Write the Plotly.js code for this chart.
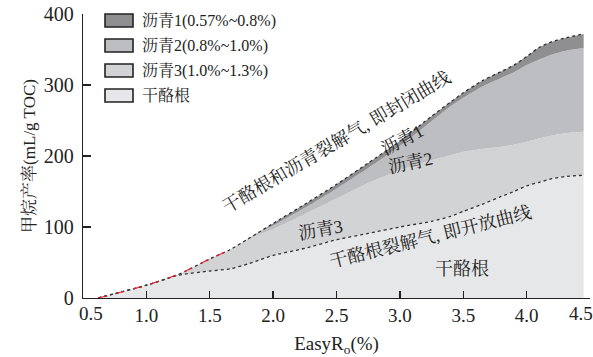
<!DOCTYPE html>
<html><head><meta charset="utf-8">
<script src="https://cdn.plot.ly/plotly-3.0.1.min.js"></script>
<style>html,body{margin:0;padding:0;background:#fff}#chart{width:593px;height:357px}</style>
</head><body><div id="chart"></div>
<script>
// EasyRo (%)
const ro = [0.62, 0.75, 1.0, 1.25, 1.5, 1.66, 1.8, 1.9, 2.0, 2.25, 2.5, 2.75, 3.0, 3.25, 3.4, 3.5, 3.65, 3.8, 3.9, 4.0, 4.1, 4.2, 4.3, 4.45];
// 干酪根裂解气 (open curve)
const kerogen = [0, 6, 18, 32, 38, 41, 48, 54, 60, 70, 82, 91, 100, 108, 115, 122, 132, 143, 150, 158, 163, 168, 171, 173];
// top of 沥青3 layer
const bitumen3Top = [0, 6, 18, 33, 55, 68, 82, 90, 97, 118, 140, 162, 180, 194, 201, 206, 210, 213, 216, 220, 225, 229, 232, 234];
// top of 沥青2 layer
const bitumen2Top = [0, 6, 18, 33, 55, 68, 83, 93, 102, 127, 154, 183, 214, 249, 270, 282, 298, 310, 318, 328, 336, 343, 348, 352];
// total = 干酪根和沥青裂解气 (closed curve) = top of 沥青1 layer
const total = [0, 6, 18, 33, 55, 68, 83, 94, 105, 132, 160, 190, 221, 256, 276, 289, 306, 319, 328, 340, 353, 361, 366, 372];
// early segment marked red
const redUntil = 1.66;

const legendNames = ['沥青1(0.57%~0.8%)', '沥青2(0.8%~1.0%)', '沥青3(1.0%~1.3%)', '干酪根'];
const legendColors = ['#8f8f92', '#bdbec1', '#d2d3d5', '#e6e7e8'];
const xLabelTicks = [1.0, 1.5, 2.0, 2.5, 3.0, 3.5, 4.0];
const xEndTicks = [0.5, 4.5];
const yTicks = [0, 100, 200, 300, 400];

const latin = 'Liberation Serif, Times New Roman, Noto Serif CJK SC, Noto Sans CJK SC, serif';

const redX = ro.filter(v => v <= redUntil);
const redY = total.slice(0, redX.length);

const sp = {shape: 'spline', smoothing: 0.6};
const traces = [
  {x: ro, y: kerogen, mode: 'lines', fill: 'tozeroy', fillcolor: legendColors[3],
   line: Object.assign({color: '#333', width: 1.3, dash: 'dot'}, sp), showlegend: false, hoverinfo: 'skip'},
  {x: ro, y: bitumen3Top, mode: 'lines', fill: 'tonexty', fillcolor: legendColors[2],
   line: Object.assign({width: 0}, sp), showlegend: false, hoverinfo: 'skip'},
  {x: ro, y: bitumen2Top, mode: 'lines', fill: 'tonexty', fillcolor: legendColors[1],
   line: Object.assign({width: 0}, sp), showlegend: false, hoverinfo: 'skip'},
  {x: ro, y: total, mode: 'lines', fill: 'tonexty', fillcolor: legendColors[0],
   line: Object.assign({color: '#333', width: 1.3, dash: 'dot'}, sp), showlegend: false, hoverinfo: 'skip'},
  {x: redX, y: redY, mode: 'lines',
   line: Object.assign({color: '#e8202a', width: 1.1, dash: 'dash'}, sp), showlegend: false, hoverinfo: 'skip'}
];

// plot area in pixels
const L = 83, R = 590, T = 14, B = 298;
const px = v => (v - L) / (R - L);
const py = v => (B - v) / (B - T);

const shapes = [];
const annotations = [];
legendNames.forEach((n, i) => {
  const top = 14 + i * 25;
  shapes.push({type: 'rect', xref: 'paper', yref: 'paper',
    x0: px(105), x1: px(133), y0: py(top + 13), y1: py(top),
    fillcolor: legendColors[i], line: {color: '#222', width: 1.6}});
  annotations.push({xref: 'paper', yref: 'paper', x: px(140), y: py(top + 6.5),
    xanchor: 'left', yanchor: 'middle', text: n, showarrow: false,
    font: {family: latin, size: 16, color: '#222'}});
});

// end tick labels, nudged inward as in the original figure
annotations.push({xref: 'paper', yref: 'paper', x: px(90.5), y: py(313), text: xEndTicks[0].toFixed(1),
  showarrow: false, xanchor: 'center', yanchor: 'middle', font: {family: latin, size: 19, color: '#222'}});
annotations.push({xref: 'paper', yref: 'paper', x: px(581), y: py(313), text: xEndTicks[1].toFixed(1),
  showarrow: false, xanchor: 'center', yanchor: 'middle', font: {family: latin, size: 19, color: '#222'}});

const lab = (text, x, y, angle) => ({x: x, y: y, xref: 'x', yref: 'y', text: text, showarrow: false,
  textangle: angle, font: {family: latin, size: 18, color: '#222'}, xanchor: 'center', yanchor: 'middle'});
annotations.push(lab('干酪根和沥青裂解气, 即封闭曲线', 2.50, 220, -30.5));
annotations.push(lab('沥青1', 3.02, 222, -28));
annotations.push(lab('沥青2', 3.08, 190, -12));
annotations.push(lab('沥青3', 2.37, 96, -10));
annotations.push(lab('干酪根裂解气, 即开放曲线', 3.24, 86, -14));
annotations.push(lab('干酪根', 3.49, 42, 0));

const layout = {
  width: 593, height: 357,
  margin: {l: L, r: 593 - R, t: T, b: 357 - B},
  paper_bgcolor: '#fff', plot_bgcolor: '#fff',
  showlegend: false,
  xaxis: {range: [0.5, 4.5], tickvals: xLabelTicks, ticktext: xLabelTicks.map(v => v.toFixed(1)),
    ticks: 'inside', ticklen: 7, tickwidth: 1.3, tickcolor: '#222',
    minor: {tickmode: 'array', tickvals: xEndTicks, ticks: 'inside', ticklen: 7, tickwidth: 1.3, tickcolor: '#222', showgrid: false},
    showline: true, linecolor: '#222', linewidth: 1.3, showgrid: false, zeroline: false,
    tickfont: {family: latin, size: 19, color: '#222'},
    title: {text: 'EasyR<sub>o</sub>(%)', font: {family: latin, size: 19, color: '#222'}, standoff: 19}},
  yaxis: {range: [0, 400], tickvals: yTicks,
    ticks: 'inside', ticklen: 8, tickwidth: 1.3, tickcolor: '#222', ticklabelstandoff: 4,
    showline: true, linecolor: '#222', linewidth: 1.3, showgrid: false, zeroline: false,
    tickfont: {family: latin, size: 20, color: '#222'},
    title: {text: '甲烷产率(mL/g TOC)', font: {family: latin, size: 17, color: '#222'}, standoff: 3}},
  shapes: shapes,
  annotations: annotations
};

Plotly.newPlot('chart', traces, layout, {staticPlot: true, displayModeBar: false});
</script></body></html>
